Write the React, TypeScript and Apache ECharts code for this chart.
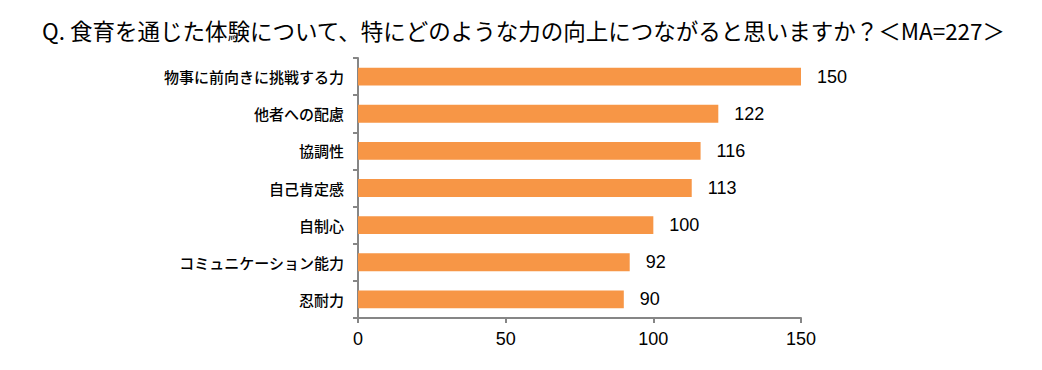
import React, { useEffect, useRef } from "react";
import * as echarts from "echarts";

const titleText = "Q. 食育を通じた体験について、特にどのような力の向上につながると思いますか？＜MA=227＞";
const categories = [
  "物事に前向きに挑戦する力",
  "他者への配慮",
  "協調性",
  "自己肯定感",
  "自制心",
  "コミュニケーション能力",
  "忍耐力",
];
const values = [150, 122, 116, 113, 100, 92, 90];
const axisMin = 0;
const axisMax = 150;
const axisInterval = 50;

export default function App() {
  const ref = useRef<HTMLDivElement>(null);
  useEffect(() => {
    document.body.style.margin = "0";
    const chart = echarts.init(ref.current!, null, { renderer: "svg" });
    chart.setOption({
      animation: false,
      backgroundColor: "#ffffff",
      title: {
        text: titleText,
        left: 37,
        top: 14,
        textStyle: {
          fontFamily: "'Noto Sans CJK JP', sans-serif",
          fontSize: 22.5,
          fontWeight: "normal",
          color: "#000000",
        },
      },
      grid: { left: 358, right: 241, top: 58, bottom: 52, containLabel: false },
      xAxis: {
        type: "value",
        min: axisMin,
        max: axisMax,
        interval: axisInterval,
        splitLine: { show: false },
        axisLine: { show: true, lineStyle: { color: "#868686", width: 2 } },
        axisTick: { show: true, length: 5, lineStyle: { color: "#868686", width: 2 } },
        axisLabel: {
          margin: 12,
          fontFamily: "'Liberation Sans', Arial, sans-serif",
          fontSize: 18,
          color: "#000000",
        },
      },
      yAxis: {
        type: "category",
        data: categories,
        inverse: true,
        axisLine: { show: true, lineStyle: { color: "#868686", width: 2 } },
        axisTick: { show: true, length: 5, alignWithLabel: false, lineStyle: { color: "#868686", width: 2 } },
        axisLabel: {
          margin: 14,
          fontFamily: "'Noto Sans CJK JP', sans-serif",
          fontSize: 15,
          fontWeight: 500,
          color: "#000000",
        },
      },
      series: [
        {
          type: "bar",
          data: values,
          barWidth: "48%",
          itemStyle: { color: "#F79646" },
          label: {
            show: true,
            position: "right",
            distance: 16,
            fontFamily: "'Liberation Sans', Arial, sans-serif",
            fontSize: 18,
            color: "#000000",
          },
        },
      ],
    });
    return () => chart.dispose();
  }, []);
  return <div ref={ref} style={{ width: 1042, height: 370 }} />;
}
